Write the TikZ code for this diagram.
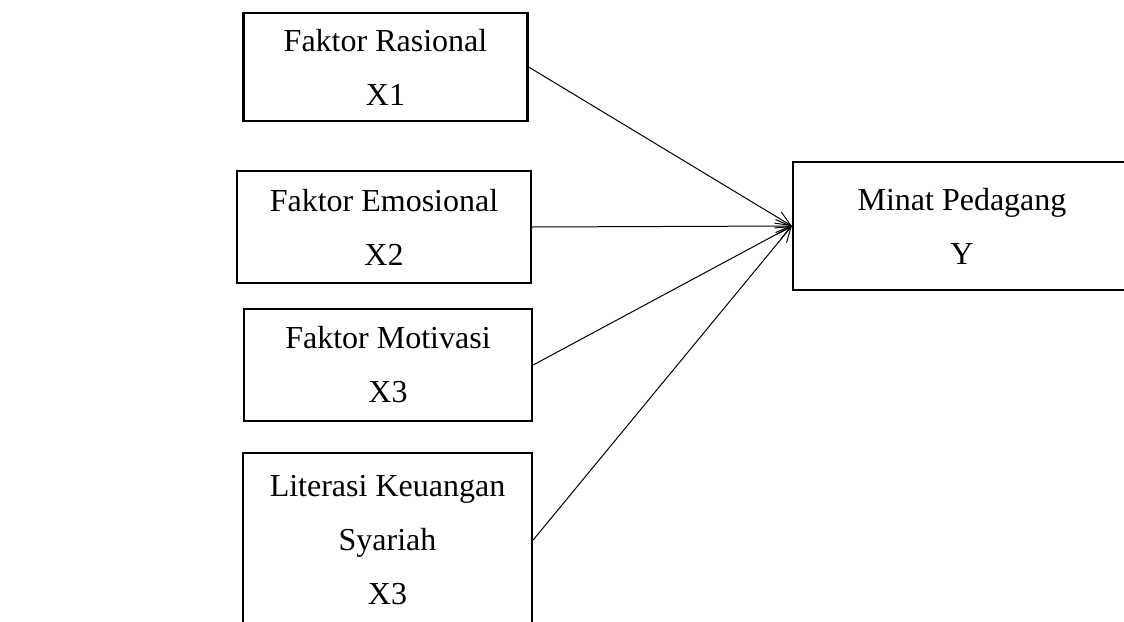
\documentclass[tikz,border=0pt]{standalone}
\usepackage{fontspec}
\setmainfont{Liberation Serif}
\usetikzlibrary{arrows.meta}
\begin{document}
\begin{tikzpicture}[x=1pt,y=-1pt,
  varbox/.style={draw=black,line width=2.3pt,rectangle,align=center,inner sep=0pt,
    font=\fontsize{32}{54}\selectfont},
  link/.style={line width=1pt,-{Straight Barb[length=15pt,width=13pt,line width=1pt]}}]
\useasboundingbox (0,0) rectangle (1124,621);
\begin{scope}
\clip (0,0) rectangle (1124,621);
\node[varbox,minimum width=284pt,minimum height=108pt] (b1) at (385.5,67) {Faktor Rasional\\X1};
\node[varbox,minimum width=294pt,minimum height=112pt] (b2) at (384,227) {Faktor Emosional\\X2};
\node[varbox,minimum width=288pt,minimum height=112pt] (b3) at (388,365) {Faktor Motivasi\\X3};
\node[varbox,minimum width=289pt,minimum height=174pt] (b4) at (387.5,540) {Literasi Keuangan\\Syariah\\X3};
\node[varbox,minimum width=338pt,minimum height=128pt] (y) at (962,226) {Minat Pedagang\\Y};
\end{scope}
\draw[link] (b1.east) -- (y.west);
\draw[link] (b2.east) -- (y.west);
\draw[link] (b3.east) -- (y.west);
\draw[link] (b4.east) -- (y.west);
\end{tikzpicture}
\end{document}
